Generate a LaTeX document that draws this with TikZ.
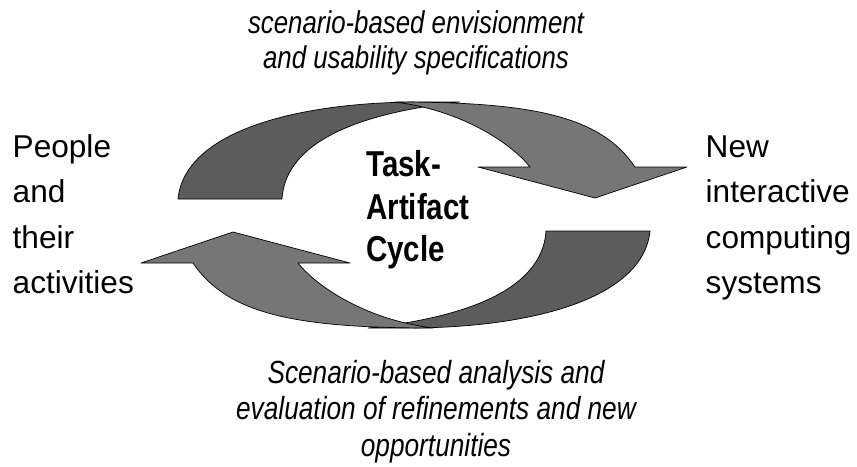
\documentclass[tikz,border=0pt]{standalone}
\usepackage{fontspec}
\setmainfont{Liberation Sans}
\newfontfamily\narrowfont[FakeStretch=0.82]{Liberation Sans}

\definecolor{backgray}{RGB}{92,92,92}
\definecolor{frontgray}{RGB}{118,118,118}

\tikzset{
  backpart/.style={fill=backgray, draw=black, line width=0.7pt, line join=round},
  frontpart/.style={fill=frontgray, draw=black, line width=0.7pt, line join=round},
  sidetext/.style={font=\fontsize{31.6}{45.5}\selectfont, align=left, inner sep=0pt},
  notetext/.style={font=\narrowfont\itshape\fontsize{32}{36.5}\selectfont, align=center, inner sep=0pt},
  cycletext/.style={font=\narrowfont\bfseries\fontsize{36}{42.5}\selectfont, align=left, inner sep=0pt}
}

\begin{document}
\begin{tikzpicture}[x=1pt,y=-1pt]
\useasboundingbox (0,0) rectangle (857,466);

\foreach \turn in {0,180}{
\begin{scope}[rotate around={\turn:(414,215)}]
\draw[backpart] (178,199) .. controls (185,130) and (300,102) .. (420,102) -- (460,102)
  .. controls (340,115) and (285,150) .. (282,199) -- cycle; %%back half
\draw[frontpart] (395,102) .. controls (530,102) and (600,115) .. (635,167) -- (687,167)
  -- (595,198) -- (478,167) -- (530,167) .. controls (510,142) and (460,110) .. (395,102) -- cycle; %%head
\end{scope}
}

%% base anchor = last line
\node[sidetext, anchor=base west] (people) at (12.5,293.5) {People\\and\\their\\activities};
\node[sidetext, anchor=base west] (systems) at (705.5,293.5) {New\\interactive\\computing\\systems};
\node[cycletext, anchor=base west] (cycle) at (366,261.7) {Task-\\Artifact\\Cycle};
\node[notetext, anchor=base, font=\narrowfont\itshape\fontsize{31.5}{35}\selectfont] (envision) at (416,68.3) {scenario-based envisionment\\and usability specifications};
\node[notetext, anchor=base] (analysis) at (436,456) {Scenario-based analysis and\\evaluation of refinements and new\\opportunities};

\end{tikzpicture}
\end{document}
